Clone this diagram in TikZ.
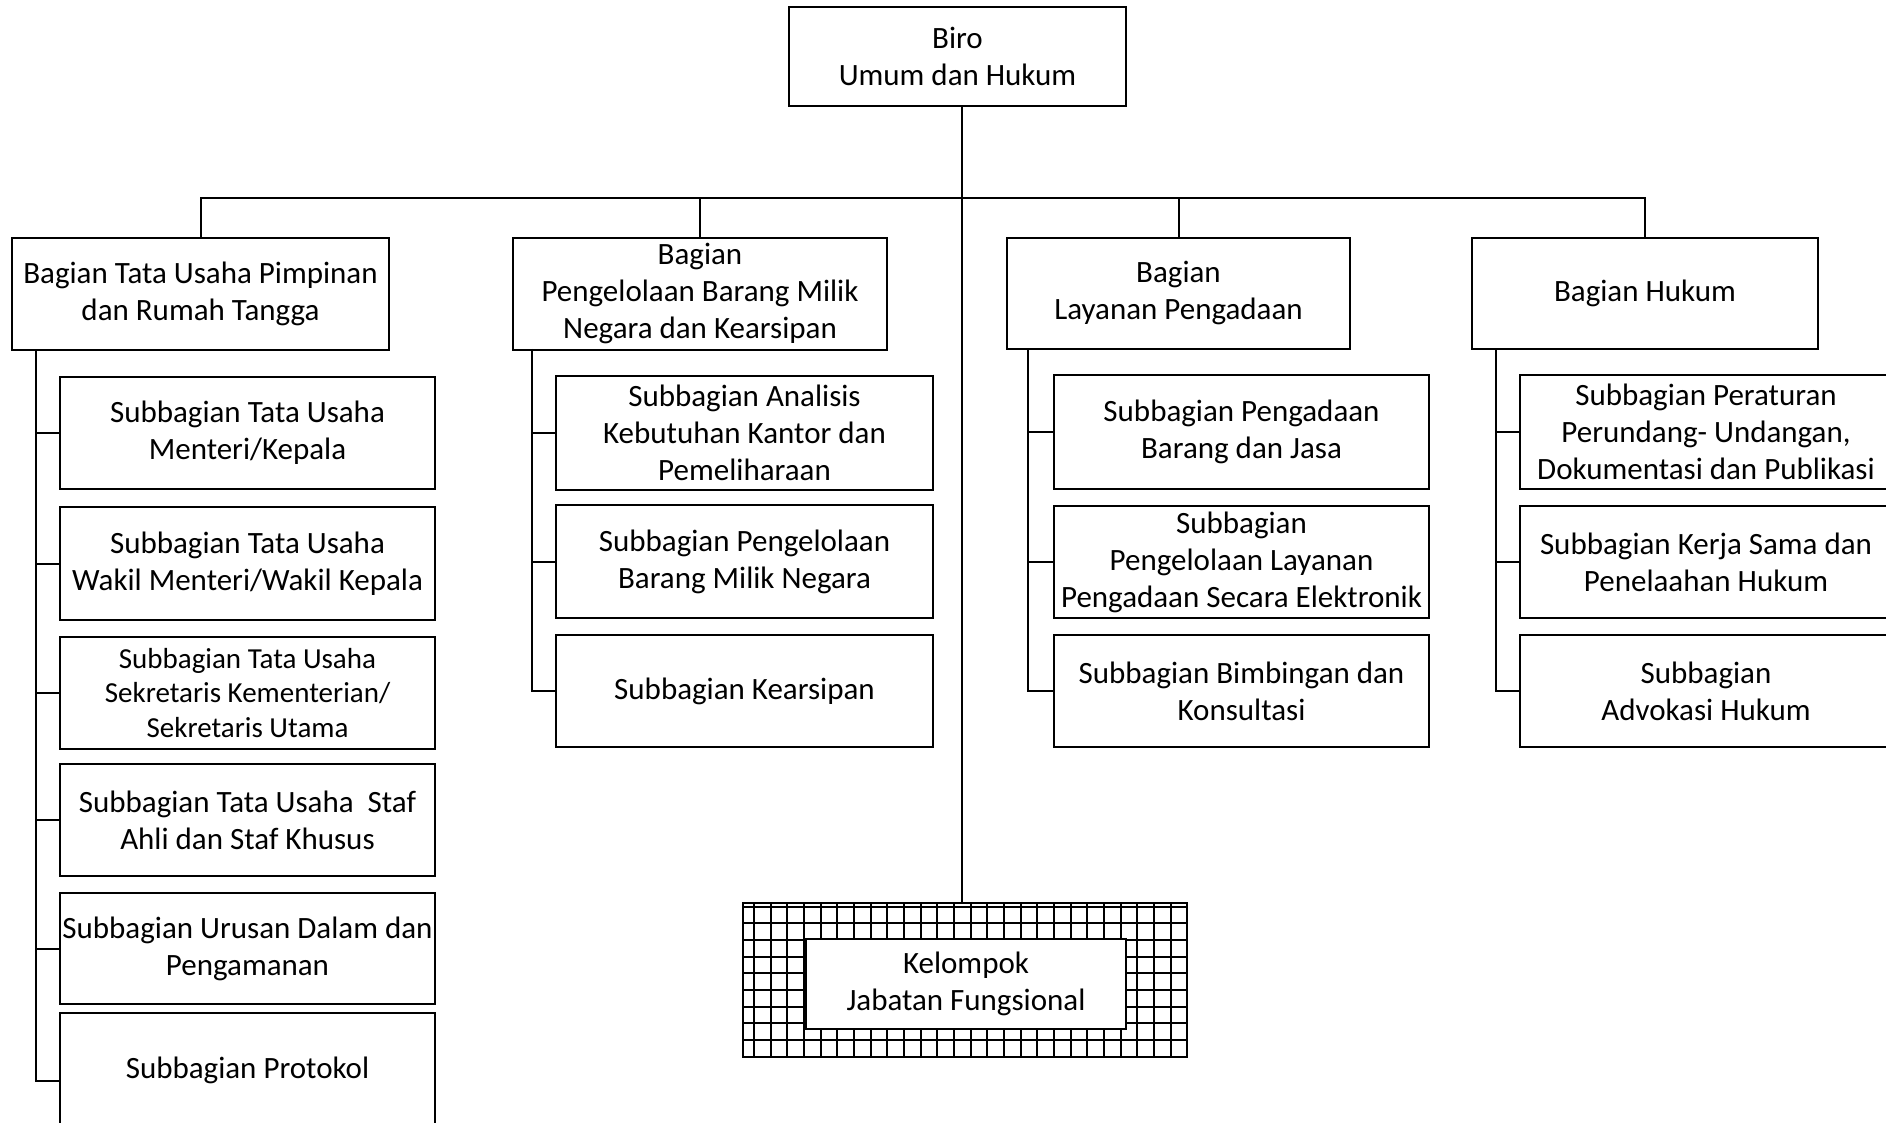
\documentclass[tikz,border=0pt]{standalone}
\usepackage{fontspec}
\setmainfont{Carlito}
\usetikzlibrary{calc}
\tikzset{
  orgbox/.style={draw=black, line width=1pt, inner sep=0pt, align=center, fill=white,
    font=\fontsize{15.5pt}{18.5pt}\selectfont, text=black},
  smalltext/.style={font=\fontsize{14.5pt}{17.1pt}\selectfont},
  conn/.style={line width=1pt, draw=black},
  gridline/.style={line width=0.9pt, draw=black}
}
\begin{document}
\begin{tikzpicture}[x=0.5pt,y=-0.5pt]
\clip (0,0) rectangle (1886,1123);
\fill[white] (0,0) rectangle (1886,1123);

% top
\node[orgbox, minimum width=168.5pt, minimum height=49.5pt] (top) at (957.5,56.5) {Biro\\Umum dan Hukum};

% bagian
\node[orgbox, minimum width=188.5pt, minimum height=56pt] (b1) at (200.5,294) {Bagian Tata Usaha Pimpinan\\dan Rumah Tangga};
\node[orgbox, minimum width=187pt, minimum height=56pt] (b2) at (700,294) {Bagian\\Pengelolaan Barang Milik\\Negara dan Kearsipan};
\node[orgbox, minimum width=171.5pt, minimum height=55.5pt] (b3) at (1178.5,293.5) {Bagian\\Layanan Pengadaan};
\node[orgbox, minimum width=173pt, minimum height=55.5pt] (b4) at (1645,293.5) {Bagian Hukum};

% left column
\node[orgbox, minimum width=187.5pt, minimum height=56pt] (s1) at (247.5,433) {Subbagian Tata Usaha\\Menteri/Kepala};
\node[orgbox, minimum width=187.5pt, minimum height=56.5pt] (s2) at (247.5,563.5) {Subbagian Tata Usaha\\Wakil Menteri/Wakil Kepala};
\node[orgbox, smalltext, minimum width=187.5pt, minimum height=56pt] (s3) at (247.5,693) {Subbagian Tata Usaha\\Sekretaris Kementerian/\\Sekretaris Utama};
\node[orgbox, minimum width=187.5pt, minimum height=56pt] (s4) at (247.5,820) {Subbagian Tata Usaha\ \ Staf\\Ahli dan Staf Khusus};
\node[orgbox, minimum width=187.5pt, minimum height=55.5pt] (s5) at (247.5,948.5) {Subbagian Urusan Dalam dan\\Pengamanan};
\node[orgbox, minimum width=187.5pt, minimum height=57pt] (s6) at (247.5,1070) {Subbagian Protokol};

% second column
\node[orgbox, minimum width=188.5pt, minimum height=57pt] (t1) at (744.5,433) {Subbagian Analisis\\Kebutuhan Kantor dan\\Pemeliharaan};
\node[orgbox, minimum width=188.5pt, minimum height=56.5pt] (t2) at (744.5,561.5) {Subbagian Pengelolaan\\Barang Milik Negara};
\node[orgbox, minimum width=188.5pt, minimum height=56pt] (t3) at (744.5,691) {Subbagian Kearsipan};

% third column
\node[orgbox, minimum width=187.5pt, minimum height=57pt] (u1) at (1241.5,432) {Subbagian Pengadaan\\Barang dan Jasa};
\node[orgbox, minimum width=187.5pt, minimum height=56pt] (u2) at (1241.5,562) {Subbagian\\Pengelolaan Layanan\\Pengadaan Secara Elektronik};
\node[orgbox, minimum width=187.5pt, minimum height=56pt] (u3) at (1241.5,691) {Subbagian Bimbingan dan\\Konsultasi};

% fourth column
\node[orgbox, minimum width=186pt, minimum height=57pt] (v1) at (1706,432) {Subbagian Peraturan\\Perundang- Undangan,\\Dokumentasi dan Publikasi};
\node[orgbox, minimum width=186pt, minimum height=56pt] (v2) at (1706,562) {Subbagian Kerja Sama dan\\Penelaahan Hukum};
\node[orgbox, minimum width=186pt, minimum height=56pt] (v3) at (1706,691) {Subbagian\\Advokasi Hukum};

% grid box
\node[draw=black, line width=1pt, inner sep=0pt, minimum width=222pt, minimum height=77pt] (grid) at (965,980) {};
\begin{scope}
  \clip (grid.south west) rectangle (grid.north east);
  \foreach \i in {0,...,25} \draw[gridline] (754+\i*16.667,903) -- (754+\i*16.667,1057);
  \foreach \j in {0,...,8} \draw[gridline] (743,906.7+\j*16.667) -- (1187,906.7+\j*16.667);
\end{scope}
\node[orgbox, minimum width=160pt, minimum height=45pt] (kjf) at (966,984) {Kelompok\\Jabatan Fungsional};

% coordinates
\coordinate (spine) at (962,160);
\coordinate (bus) at (0,198);
\coordinate (sp1) at (36,0);
\coordinate (sp2) at (532,0);
\coordinate (sp3) at (1028,0);
\coordinate (sp4) at (1496,0);

% main connectors
\draw[conn] (top.south -| spine) -- (grid.north -| spine);
\draw[conn] (b1.north) -- (b1.north |- bus) -- (b4.north |- bus) -- (b4.north);
\draw[conn] (b2.north) -- (b2.north |- bus);
\draw[conn] (b3.north) -- (b3.north |- bus);

% column 1
\draw[conn] (b1.south -| sp1) |- ([yshift=-5.5pt]s6.west);
\foreach \n in {s1,s2,s3,s4,s5} \draw[conn] (\n.west -| sp1) -- (\n.west);
% column 2
\draw[conn] ([yshift=1pt]b2.south -| sp2) |- (t3.west);
\foreach \n in {t1,t2} \draw[conn] (\n.west -| sp2) -- (\n.west);
% column 3
\draw[conn] (b3.south -| sp3) |- (u3.west);
\foreach \n in {u1,u2} \draw[conn] (\n.west -| sp3) -- (\n.west);
% column 4
\draw[conn] (b4.south -| sp4) |- (v3.west);
\foreach \n in {v1,v2} \draw[conn] (\n.west -| sp4) -- (\n.west);
\end{tikzpicture}
\end{document}
